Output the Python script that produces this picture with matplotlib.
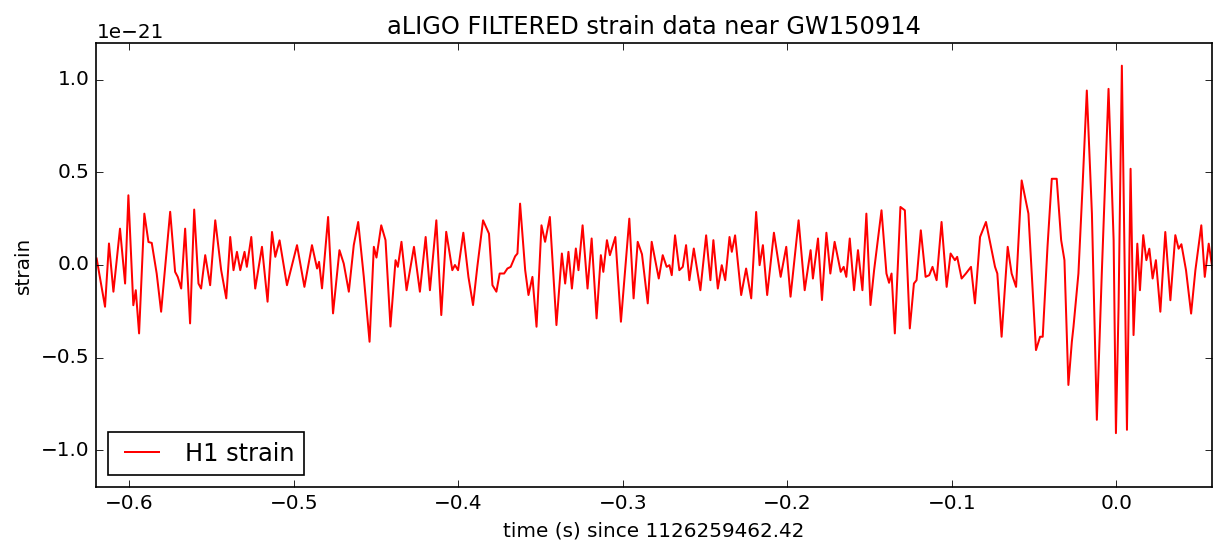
import matplotlib
matplotlib.use("Agg")
import matplotlib.pyplot as plt
import numpy as np

plt.style.use("classic")

# Filtered H1 strain around the event (time in s, strain in units of 1e-21)
time_s = [
    -0.6199, -0.6148, -0.6124, -0.6097, -0.6057, -0.6026, -0.6006, -0.5976, -0.5961, -0.5941,
    -0.5909, -0.5884, -0.5864, -0.5834, -0.5807, -0.5752, -0.5722, -0.5706, -0.5685, -0.5661,
    -0.5631, -0.5606, -0.5580, -0.5564, -0.5539, -0.5509, -0.5478, -0.5442, -0.5411, -0.5387,
    -0.5367, -0.5346, -0.5326, -0.5300, -0.5286, -0.5259, -0.5235, -0.5194, -0.5160, -0.5133,
    -0.5113, -0.5087, -0.5042,
    -0.4981, -0.4936, -0.4890, -0.4859, -0.4847, -0.4829, -0.4792, -0.4762, -0.4723, -0.4697,
    -0.4666, -0.4636, -0.4609, -0.4575, -0.4540, -0.4514, -0.4498, -0.4469, -0.4443, -0.4413,
    -0.4382, -0.4368, -0.4346, -0.4315, -0.4270, -0.4234, -0.4199, -0.4173, -0.4134, -0.4104,
    -0.4074, -0.4037, -0.4021, -0.4002, -0.3970, -0.3939, -0.3911, -0.3885, -0.3850,
    -0.3814, -0.3793, -0.3769, -0.3749, -0.3722, -0.3702, -0.3682, -0.3655, -0.3641, -0.3625,
    -0.3594, -0.3574, -0.3550, -0.3525, -0.3495, -0.3473, -0.3444, -0.3404, -0.3371, -0.3351,
    -0.3331, -0.3310, -0.3286, -0.3270, -0.3245, -0.3215, -0.3190, -0.3160, -0.3134, -0.3119,
    -0.3097, -0.3079, -0.3046, -0.3012, -0.2961, -0.2935, -0.2910, -0.2884, -0.2849, -0.2825,
    -0.2782, -0.2758, -0.2734, -0.2717, -0.2703, -0.2683, -0.2657, -0.2636,
    -0.2616, -0.2596, -0.2569, -0.2529, -0.2494, -0.2468, -0.2450, -0.2423, -0.2399, -0.2378,
    -0.2352, -0.2338, -0.2318, -0.2281, -0.2251, -0.2220, -0.2190, -0.2169, -0.2149, -0.2123,
    -0.2082, -0.2041, -0.2007, -0.1981, -0.1932, -0.1895, -0.1859, -0.1845, -0.1814, -0.1790,
    -0.1763, -0.1739, -0.1713, -0.1676, -0.1658, -0.1642, -0.1621, -0.1595, -0.1571, -0.1544,
    -0.1520, -0.1495, -0.1473,
    -0.1428, -0.1398, -0.1382, -0.1367, -0.1347, -0.1313, -0.1286, -0.1256, -0.1231, -0.1215,
    -0.1189, -0.1160, -0.1138, -0.1118, -0.1093, -0.1063, -0.1032, -0.1008, -0.0982, -0.0968,
    -0.0941, -0.0915, -0.0884, -0.0860, -0.0829, -0.0793, -0.0738, -0.0724, -0.0698, -0.0661,
    -0.0637, -0.0610, -0.0576, -0.0535, -0.0489, -0.0464, -0.0448, -0.0419, -0.0393, -0.0363,
    -0.0336, -0.0316, -0.0292, -0.0271,
    -0.0261, -0.0231, -0.0206, -0.0180, -0.0149, -0.0119, -0.0089, -0.0048, -0.0017, -0.0003,
    0.0013, 0.0033, 0.0064, 0.0086, 0.0104, 0.0127, 0.0143, 0.0163, 0.0182, 0.0200,
    0.0220, 0.0240, 0.0267, 0.0297, 0.0328, 0.0358, 0.0378, 0.0395, 0.0423, 0.0454,
    0.0480, 0.0516, 0.0537, 0.0561, 0.0585, 0.0606,
]

strain_1e21 = [
    0.035, -0.225, 0.116, -0.144, 0.196, -0.100, 0.376, -0.217, -0.136, -0.369,
    0.277, 0.124, 0.119, -0.046, -0.252, 0.287, -0.037, -0.064, -0.127, 0.196,
    -0.315, 0.299, -0.100, -0.127, 0.053, -0.109, 0.241, -0.028, -0.180, 0.151,
    -0.028, 0.071, -0.028, 0.071, -0.010, 0.151, -0.127, 0.098, -0.198, 0.178,
    0.044, 0.133, -0.109,
    0.107, -0.118, 0.107, -0.019, 0.017, -0.126, 0.259, -0.261, 0.080, 0.008,
    -0.144, 0.107, 0.232, -0.064, -0.414, 0.098, 0.040, 0.214, 0.134, -0.332,
    0.026, -0.010, 0.125, -0.136, 0.098, -0.144, 0.151, -0.136, 0.241, -0.270,
    0.179, -0.028, 0.000, -0.028, 0.174, -0.064, -0.216, -0.010, 0.241,
    0.169, -0.109, -0.144, -0.046, -0.046, -0.019, -0.010, 0.047, 0.062, 0.331,
    -0.028, -0.162, -0.064, -0.333, 0.214, 0.125, 0.259, -0.324, 0.062, -0.100,
    0.071, -0.127, 0.089, -0.028, 0.214, -0.127, 0.143, -0.288, 0.053, -0.037,
    0.134, 0.053, 0.151, -0.306, 0.250, -0.180, 0.125, 0.058, -0.207, 0.125,
    -0.073, 0.053, -0.010, -0.001, -0.055, 0.160, -0.028, -0.010,
    0.107, -0.082, 0.089, -0.136, 0.160, -0.082, 0.134, -0.127, -0.001, -0.082,
    0.151, 0.071, 0.160, -0.162, -0.019, -0.180, 0.286, -0.001, 0.107, -0.162,
    0.174, -0.064, 0.098, -0.171, 0.241, -0.136, 0.080, -0.073, 0.143, -0.189,
    0.174, -0.046, 0.125, -0.037, -0.010, -0.064, 0.143, -0.136, 0.080, -0.136,
    0.277, -0.216, -0.028,
    0.295, -0.046, -0.096, -0.046, -0.369, 0.313, 0.295, -0.342, -0.100, -0.082,
    0.187, -0.064, -0.055, -0.010, -0.082, 0.232, -0.118, 0.062, 0.026, 0.044,
    -0.073, -0.046, -0.010, -0.207, 0.151, 0.232, -0.010, -0.046, -0.387, 0.098,
    -0.046, -0.118, 0.456, 0.277, -0.459, -0.387, -0.387, 0.098, 0.465, 0.465,
    0.134, 0.026, -0.647, -0.414,
    -0.333, -0.046, 0.421, 0.941, 0.277, -0.835, -0.046, 0.950, 0.134, -0.907,
    -0.225, 1.075, -0.889, 0.519, -0.378, 0.115, -0.136, 0.161, 0.026, 0.088,
    -0.073, 0.026, -0.252, 0.178, -0.190, 0.161, 0.088, 0.112, -0.028, -0.262,
    -0.028, 0.214, -0.064, 0.115, -0.028, 0.044,
]

t = np.asarray(time_s)
h = np.asarray(strain_1e21) * 1e-21

fig = plt.figure(figsize=(1215 / 120, 547 / 120), dpi=120, facecolor="white")
ax = fig.add_axes([0.0794, 0.1088, 0.918, 0.8135])
ax.plot(t, h, "r", lw=1.2, label="H1 strain")
ax.set_xlim(-0.62, 0.058)
ax.set_ylim(-1.2e-21, 1.2e-21)
ax.set_xlabel("time (s) since 1126259462.42")
ax.set_ylabel("strain")
ax.set_title("aLIGO FILTERED strain data near GW150914")
ax.legend(loc="lower left")

fig.savefig("out.png", dpi=120, facecolor="white")
